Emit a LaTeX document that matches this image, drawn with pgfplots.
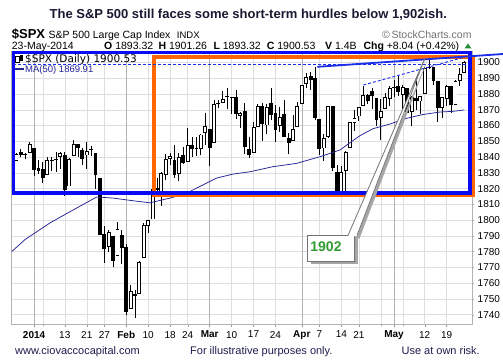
\documentclass[border=0pt]{standalone}
\usepackage{pgfplots}
\pgfplotsset{compat=1.18}
\usepackage{pgfplotstable}
\usepackage{fontspec}
\setmainfont{Liberation Sans}
\newfontfamily\dejavu{DejaVu Sans}
\definecolor{boxblue}{RGB}{10,10,245}
\definecolor{boxorange}{RGB}{255,102,0}
\definecolor{maline}{RGB}{35,35,150}
\definecolor{trend}{RGB}{25,45,235}
\definecolor{titlecol}{RGB}{25,25,50}
\definecolor{footcol}{RGB}{30,30,80}
\definecolor{greentxt}{RGB}{50,155,50}
\definecolor{upgreen}{RGB}{40,140,60}

\pgfplotstableread{
i o h l c
0 1837.58 1842.84 1837.58 1842.02
1 1842.97 1844.89 1839.81 1841.40
2 1841.47 1842.47 1838.77 1841.07
3 1842.61 1849.44 1842.41 1848.36
4 1845.86 1845.86 1827.74 1831.98
5 1833.21 1838.24 1829.13 1831.37
6 1832.31 1837.16 1823.73 1826.77
7 1828.71 1840.10 1828.71 1837.88
8 1837.90 1840.02 1831.40 1837.49
9 1839.00 1843.23 1830.38 1838.13
10 1840.06 1843.15 1832.43 1842.37
11 1841.26 1843.45 1815.52 1819.20
12 1821.36 1839.26 1821.36 1838.88
13 1840.52 1850.84 1840.52 1848.38
14 1847.99 1847.99 1840.30 1845.89
15 1844.23 1846.03 1835.23 1838.70
16 1841.05 1849.31 1832.38 1843.80
17 1844.71 1846.87 1840.88 1844.86
18 1842.29 1842.29 1820.06 1828.46
19 1826.96 1826.96 1790.29 1790.29
20 1791.03 1795.98 1772.88 1781.56
21 1783.00 1793.87 1779.49 1792.50
22 1790.15 1790.15 1770.45 1774.20
23 1777.17 1798.77 1777.17 1794.19
24 1790.88 1793.88 1772.26 1782.59
25 1782.68 1784.83 1739.66 1741.89
26 1743.82 1758.73 1743.82 1755.20
27 1753.38 1755.79 1737.92 1751.64
28 1752.99 1774.06 1752.99 1773.43
29 1776.01 1798.03 1776.01 1797.02
30 1796.20 1799.94 1791.83 1799.84
31 1800.45 1823.54 1800.41 1819.75
32 1820.12 1826.55 1815.97 1819.26
33 1814.82 1830.25 1809.22 1829.83
34 1828.46 1841.65 1825.59 1838.63
35 1839.03 1842.87 1835.01 1840.76
36 1838.22 1847.50 1826.99 1828.75
37 1829.24 1842.79 1824.58 1839.78
38 1841.07 1846.13 1835.60 1836.25
39 1836.78 1858.71 1836.78 1847.61
40 1847.66 1852.91 1840.19 1845.12
41 1845.79 1852.65 1840.66 1845.16
42 1844.90 1854.53 1841.13 1854.29
43 1855.12 1867.92 1847.67 1859.45
44 1857.68 1857.68 1834.44 1845.73
45 1849.23 1876.23 1849.23 1873.91
46 1874.05 1876.53 1871.11 1873.81
47 1874.18 1881.94 1874.18 1877.03
48 1878.52 1883.57 1870.56 1878.04
49 1877.86 1877.87 1867.04 1877.17
50 1878.26 1882.35 1863.88 1867.63
51 1866.15 1868.38 1858.39 1868.20
52 1869.06 1874.40 1841.86 1846.34
53 1845.07 1852.44 1839.57 1841.13
54 1842.81 1862.30 1842.81 1858.83
55 1858.92 1873.76 1858.92 1872.25
56 1872.25 1874.14 1850.35 1860.77
57 1860.09 1873.49 1854.63 1872.01
58 1874.53 1883.97 1863.46 1866.52
59 1867.67 1873.34 1849.69 1857.44
60 1859.48 1871.87 1855.96 1865.62
61 1867.09 1875.92 1852.56 1852.56
62 1852.11 1855.55 1842.11 1849.04
63 1850.07 1866.63 1850.07 1857.62
64 1859.16 1875.18 1859.16 1872.34
65 1873.96 1885.84 1873.96 1885.52
66 1886.61 1893.17 1883.79 1890.90
67 1891.43 1893.80 1882.65 1888.77
68 1890.25 1897.28 1863.26 1865.09
69 1863.92 1864.04 1841.48 1845.04
70 1845.48 1854.95 1837.49 1851.96
71 1852.64 1872.43 1852.38 1872.18
72 1872.28 1872.53 1830.87 1833.08
73 1830.65 1835.07 1814.36 1815.69
74 1818.18 1834.19 1815.80 1830.61
75 1831.45 1844.02 1816.29 1842.98
76 1846.01 1862.31 1846.01 1862.31
77 1861.73 1869.63 1856.72 1864.85
78 1865.79 1871.89 1863.18 1871.89
79 1872.57 1884.89 1872.57 1879.55
80 1879.32 1879.75 1873.91 1875.39
81 1881.97 1884.06 1870.24 1878.61
82 1877.72 1877.72 1859.70 1863.40
83 1865.00 1877.01 1850.61 1869.43
84 1870.78 1880.60 1870.78 1878.33
85 1877.10 1885.20 1872.69 1883.95
86 1884.39 1888.59 1878.04 1883.68
87 1885.30 1891.33 1878.50 1881.14
88 1879.45 1885.51 1866.77 1884.66
89 1883.69 1883.69 1867.72 1867.72
90 1868.53 1878.83 1859.79 1878.21
91 1877.39 1889.07 1870.05 1875.63
92 1875.27 1878.57 1867.02 1878.48
93 1880.03 1897.13 1880.03 1896.65
94 1896.75 1902.17 1896.06 1897.45
95 1897.13 1897.13 1885.77 1888.53
96 1888.16 1888.16 1862.36 1870.85
97 1871.19 1878.28 1864.82 1877.86
98 1876.66 1886.00 1872.42 1885.08
99 1884.88 1884.88 1868.14 1872.83
100 1873.34 1888.80 1873.34 1888.03
101 1888.19 1896.33 1885.39 1892.49
102 1893.32 1901.26 1893.32 1900.53
}\spx

\pgfplotstableread{
i ma
-1.1 1780.0
1.9 1787.6
7.6 1798.2
13.7 1807.7
18.3 1814.7
22.0 1814.0
26.5 1812.3
30.4 1811.0
35.0 1814.0
38.8 1817.2
45.6 1826.7
49.3 1829.2
53.2 1830.7
58.4 1833.9
63.8 1836.0
69.1 1840.2
73.7 1844.5
75.9 1849.0
78.2 1853.5
81.2 1858.0
85.1 1861.0
88.9 1864.6
92.6 1867.0
96.5 1868.6
99.4 1869.0
102.0 1869.9
}\maline

\pgfplotsset{candle/.style={forget plot, only marks, mark=*, mark size=0pt,
  mark options={draw opacity=0, fill opacity=0},
  error bars/.cd, y dir=plus, y explicit, error mark=none}}

\begin{document}
\begin{tikzpicture}
\path[use as bounding box] (0,0) rectangle (503pt,362pt);
\fill[white] (0,0) rectangle (503pt,362pt);

% header
\node[anchor=base, inner sep=0, text=titlecol, font=\bfseries\fontsize{13}{15}\selectfont] at (248.3pt,343pt) {The S\&P 500 still faces some short-term hurdles below 1,902ish.};
\node[anchor=base west, inner sep=0, font=\bfseries\fontsize{13}{15}\selectfont] at (11.7pt,323.7pt) {\$SPX};
\node[anchor=base west, inner sep=0, font=\fontsize{10.5}{12}\selectfont] at (48.3pt,323.7pt) {S\&P 500 Large Cap Index};
\node[anchor=base west, inner sep=0, font=\fontsize{9.5}{11}\selectfont] at (176.7pt,323.7pt) {INDX};
\node[anchor=base east, inner sep=0, text=black!55, font=\fontsize{10.5}{12}\selectfont] at (471.7pt,323.7pt) {\textcopyright\,StockCharts.com};
\node[anchor=base west, inner sep=0, font=\fontsize{10.5}{12}\selectfont] at (11.7pt,312.7pt) {23-May-2014};
\node[anchor=base west, inner sep=0, font=\fontsize{10.5}{12}\selectfont] at (104pt,312.7pt) {\textbf{O} 1893.32};
\node[anchor=base west, inner sep=0, font=\fontsize{10.5}{12}\selectfont] at (158.3pt,312.7pt) {\textbf{H} 1901.26};
\node[anchor=base west, inner sep=0, font=\fontsize{10.5}{12}\selectfont] at (213.3pt,312.7pt) {\textbf{L} 1893.32};
\node[anchor=base west, inner sep=0, font=\fontsize{10.5}{12}\selectfont] at (266.7pt,312.7pt) {\textbf{C} 1900.53};
\node[anchor=base west, inner sep=0, font=\fontsize{10.5}{12}\selectfont] at (325pt,312.7pt) {\textbf{V} 1.4B};
\node[anchor=base west, inner sep=0, font=\fontsize{10.5}{12}\selectfont] at (363.3pt,312.7pt) {\textbf{Chg} +8.04 (+0.42\%)};
\fill[upgreen] (464.5pt,313.5pt) -- (471.5pt,313.5pt) -- (468pt,318.5pt) -- cycle;

% footer
\node[anchor=base west, inner sep=0, text=footcol, font=\fontsize{11}{13}\selectfont] at (15pt,7.7pt) {www.ciovaccocapital.com};
\node[anchor=base west, inner sep=0, text=footcol, font=\fontsize{11}{13}\selectfont] at (190pt,7.7pt) {For illustrative purposes only.};
\node[anchor=base east, inner sep=0, text=footcol, font=\fontsize{11}{13}\selectfont] at (480pt,7.7pt) {Use at own risk.};

\begin{axis}[
  at={(11.7pt,38pt)}, anchor=south west,
  scale only axis, width=460pt, height=273pt,
  xmin=-1.1, xmax=103.7, ymin=1734.1, ymax=1907.3,
  clip mode=individual,
  axis line style={draw=black!30},
  tick style={draw=black!40, line width=0.4pt},
  tick align=outside, major tick length=2.5pt, minor tick length=2pt,
  xtick pos=bottom, ytick pos=right, yticklabel pos=right,
  ytick={1740,1750,...,1900},
  scaled y ticks=false,
  /pgf/number format/1000 sep={},
  /pgf/number format/assume math mode=true,
  ticklabel style={font=\fontsize{10}{12}\selectfont},
  xticklabel style={yshift=-1pt},
  xtick={11,16,20,30,35,39,49,54,59,69,74,78,93,98},
  xticklabels={13,21,27,10,18,24,10,17,24,7,14,21,12,19},
  minor xtick={6,83,88},
  extra x ticks={4,25,44,65,86},
  extra x tick labels={\textbf{2014},\textbf{Feb},\textbf{Mar},\textbf{Apr},\textbf{May}},
  extra x tick style={major grid style={draw=black!30, line width=0.5pt}},
  xmajorgrids=true, xminorgrids=true, ymajorgrids=true,
  major grid style={draw=black!13, line width=0.5pt},
  minor grid style={draw=black!13, line width=0.5pt},
]
% wicks
\addplot[candle, error bar style={line width=0.9pt, black}]
  table[x=i, y=l, y error plus expr={\thisrow{h}-\thisrow{l}}] {\spx};
% bodies
\addplot[candle, error bar style={line width=3.9pt, black}]
  table[x=i, y expr={min(\thisrow{o},\thisrow{c})}, y error plus expr={max(abs(\thisrow{c}-\thisrow{o}),0.7)}] {\spx};
% hollow interiors for up candles
\addplot[candle, error bar style={line width=2.1pt, white}]
  table[x=i, y expr={\thisrow{o}+0.57}, y error plus expr={(\thisrow{c}-\thisrow{o}>1.3) ? (\thisrow{c}-\thisrow{o}-1.14) : 0}] {\spx};
% MA(50)
\addplot[maline, line width=0.75pt, mark=none] table[x=i, y=ma] {\maline};

% boxes
\draw[boxorange, line width=3.5pt] (axis cs:31.28,1903.5) rectangle (axis cs:104.1,1815.7);
\draw[boxblue, line width=3.5pt] (axis cs:-0.68,1906.2) rectangle (axis cs:103.3,1817.3);
% resistance lines
\draw[trend, line width=0.9pt, dash pattern=on 3pt off 2pt] (axis cs:-0.7,1899) -- (axis cs:102.6,1899);
\draw[trend, line width=0.9pt, dash pattern=on 3pt off 2pt] (axis cs:79.0,1885.7) -- (axis cs:102.2,1903.5);
\draw[trend, line width=1.8pt] (axis cs:68.52,1897.27) -- (axis cs:110.82,1905.4);

% callout
\fill[black!35] (axis cs:66.98,1788.6) rectangle (axis cs:77.78,1772.1);
\fill[black!35] (axis cs:76.08,1788.3) -- (axis cs:93.62,1901.3) -- (axis cs:78.13,1788.3) -- cycle;
\filldraw[fill=white, draw=black!55, line width=0.9pt] (axis cs:66.3,1790.5) rectangle (axis cs:77.1,1774.0);
\fill[white] (axis cs:75.52,1789.9) -- (axis cs:93.05,1902.9) -- (axis cs:77.57,1789.9) -- cycle;
\draw[black!55, line width=0.8pt] (axis cs:75.52,1790.3) -- (axis cs:93.05,1902.9) -- (axis cs:77.57,1790.3);
\node[text=greentxt, font=\bfseries\fontsize{14}{16}\selectfont, inner sep=0] at (axis cs:70.5,1783.0) {1902};
\end{axis}

% legend inside chart
\filldraw[fill=white, draw=black, line width=0.6pt] (15.5pt,300pt) rectangle (18.8pt,306pt);
\fill[black] (19.6pt,301pt) rectangle (23pt,306.5pt);
\node[anchor=base west, inner sep=0, font=\dejavu\fontsize{10.5}{12}\selectfont] at (25pt,299.5pt) {\$SPX (Daily) 1900.53};
\draw[maline, line width=1.6pt] (15pt,293pt) -- (24pt,293pt);
\node[anchor=base west, inner sep=0, text=maline, font=\fontsize{9.5}{11}\selectfont] at (25pt,289.5pt) {MA(50) 1869.91};
\end{tikzpicture}
\end{document}
